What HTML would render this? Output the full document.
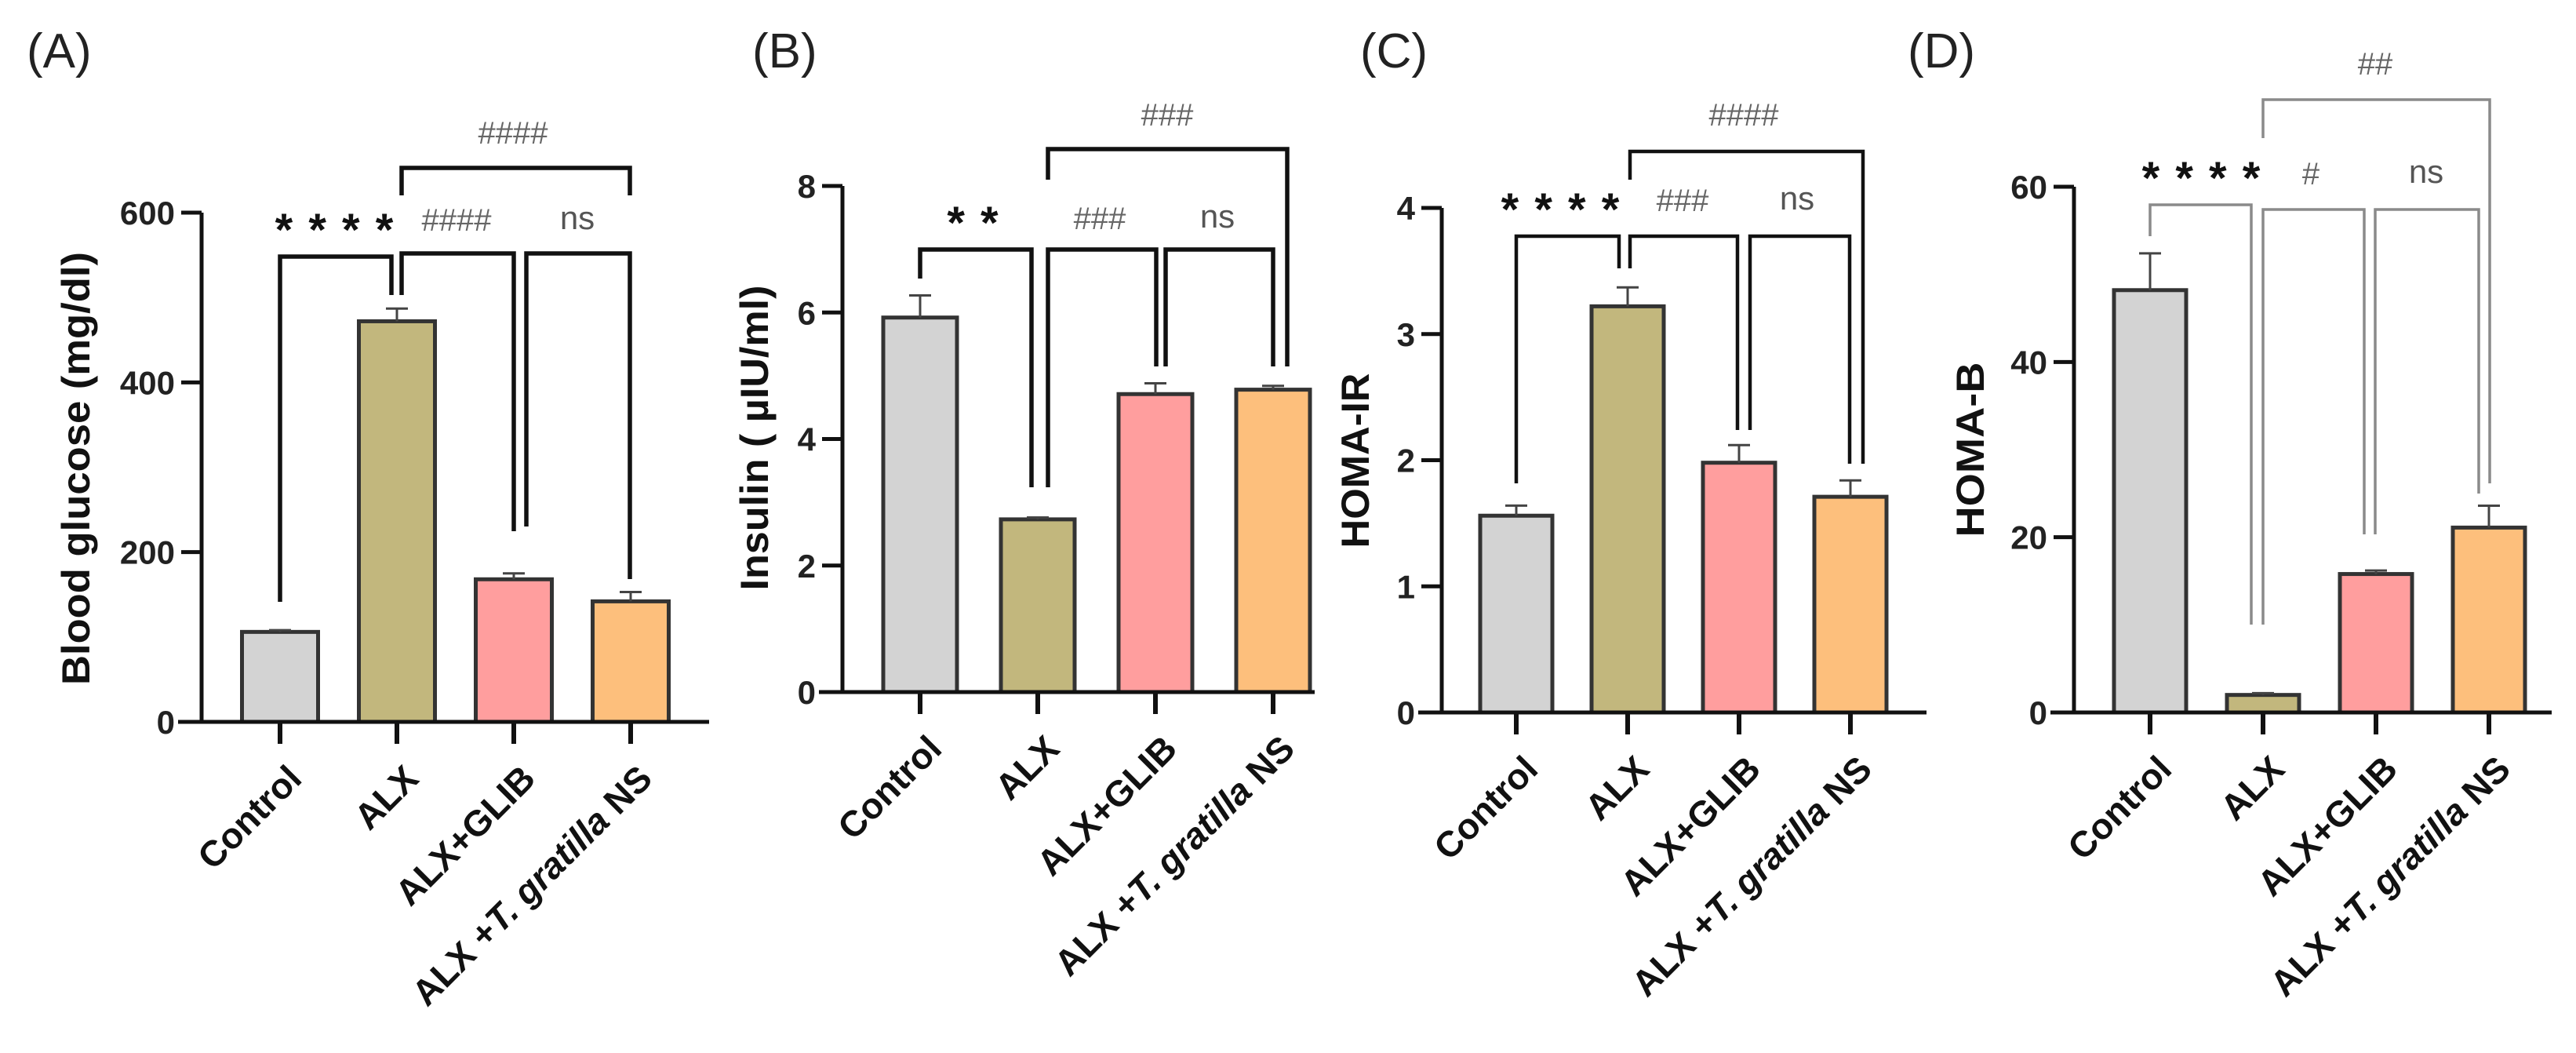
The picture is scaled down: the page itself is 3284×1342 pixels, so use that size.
<!DOCTYPE html>
<html><head><meta charset="utf-8"><title>Biochemical parameters</title>
<style>html,body{margin:0;padding:0;background:#fff;}svg{display:block;}</style></head>
<body>
<svg id="fig" xmlns="http://www.w3.org/2000/svg" width="3284" height="1342" viewBox="0 0 3284 1342">
<rect width="3284" height="1342" fill="#fff"/>
</svg>
<script>
// ---- data ----
const categories = ["Control", "ALX", "ALX+GLIB", "ALX +T. gratilla NS"];
const glucoseValues = [106, 472, 168, 142];
const glucoseErrors = [2, 15, 7, 11];
const glucoseTicks = [0, 200, 400, 600];
const insulinValues = [5.92, 2.73, 4.71, 4.78];
const insulinErrors = [0.35, 0.03, 0.17, 0.06];
const insulinTicks = [0, 2, 4, 6, 8];
const homaIRValues = [1.56, 3.22, 1.98, 1.71];
const homaIRErrors = [0.08, 0.15, 0.14, 0.13];
const homaIRTicks = [0, 1, 2, 3, 4];
const homaBValues = [48.2, 2.0, 15.8, 21.1];
const homaBErrors = [4.2, 0.2, 0.4, 2.5];
const homaBTicks = [0, 20, 40, 60];
const barColors = ["#d3d3d3", "#c2b77d", "#ff9e9e", "#fdbf7c"];

const NS = "http://www.w3.org/2000/svg";
const svg = document.getElementById("fig");
function el(tag, attrs, parent) {
  const e = document.createElementNS(NS, tag);
  for (const k in attrs) e.setAttribute(k, attrs[k]);
  (parent || svg).appendChild(e);
  return e;
}
const FONT = '"Liberation Sans", Arial, sans-serif';
const NARROW = '"Liberation Sans Narrow", "Liberation Sans", sans-serif';

const panels = [
  { key: "a", letter: "(A)", letterX: 34, values: glucoseValues, errors: glucoseErrors, ticks: glucoseTicks, yMax: 600,
    axisX: 257, y0: 920, yTop: 271, first: 357, step: 149, barW: 97, axisEnd: 904,
    title: "Blood glucose (mg/dl)", titleX: 97, titleY: 597, titleLen: 552, lw: 5.5, bcol: "#111",
    brackets: [[357, 767, 499, 376, 327], [512, 376, 655, 677, 323], [671, 671, 803, 738, 323], [512, 249, 803, 249, 214]],
    labels: [["* * * *", 427, 287, "star"], ["####", 582, 280, "hash"], ["ns", 736, 280, "ns"], ["####", 654, 169, "hash"]] },
  { key: "b", letter: "(B)", letterX: 959, values: insulinValues, errors: insulinErrors, ticks: insulinTicks, yMax: 8,
    axisX: 1074, y0: 882, yTop: 237, first: 1173, step: 150, barW: 94, axisEnd: 1676,
    title: "Insulin ( \u00b5IU/ml)", titleX: 962, titleY: 558, titleLen: 389, lw: 5.5, bcol: "#111",
    brackets: [[1173, 355, 1315, 621, 318], [1336, 621, 1474, 467, 318], [1486, 467, 1623, 467, 318], [1336, 229, 1641, 467, 190]],
    labels: [["* *", 1241, 278, "star"], ["###", 1402, 278, "hash"], ["ns", 1552, 278, "ns"], ["###", 1488, 146, "hash"]] },
  { key: "c", letter: "(C)", letterX: 1734, values: homaIRValues, errors: homaIRErrors, ticks: homaIRTicks, yMax: 4,
    axisX: 1838, y0: 908, yTop: 265, first: 1933, step: 142, barW: 92, axisEnd: 2456,
    title: "HOMA-IR", titleX: 1728, titleY: 587, titleLen: 223, lw: 4.5, bcol: "#111",
    brackets: [[1933, 616, 2064, 342, 301], [2078, 342, 2215, 548, 301], [2231, 548, 2358, 591, 301], [2078, 229, 2375, 591, 193]],
    labels: [["* * * *", 1990, 261, "star"], ["###", 2145, 255, "hash"], ["ns", 2291, 255, "ns"], ["####", 2223, 146, "hash"]] },
  { key: "d", letter: "(D)", letterX: 2432, values: homaBValues, errors: homaBErrors, ticks: homaBTicks, yMax: 60,
    axisX: 2644, y0: 908, yTop: 238, first: 2741, step: 144, barW: 92, axisEnd: 3253,
    title: "HOMA-B", titleX: 2512, titleY: 573, titleLen: 223, lw: 3.5, bcol: "#8a8a8a",
    brackets: [[2741, 301, 2870, 796, 261], [2885, 796, 3014, 681, 267], [3028, 681, 3160, 629, 267], [2885, 176, 3174, 616, 127]],
    labels: [["* * * *", 2807, 221, "star"], ["#", 2946, 221, "hash"], ["ns", 3093, 221, "ns"], ["##", 3028, 81, "hash"]] }
];

panels.forEach(p => {
  const g = el("g", {});
  
  
  const yScale = v => p.y0 - (v / p.yMax) * (p.y0 - p.yTop);
  const xScale = i => p.first + i * p.step;

  // panel letter
  const L = el("text", { x: p.letterX, y: 86, "font-family": FONT, "font-size": 62, fill: "#222" }, g);
  L.textContent = p.letter;
  
  

  // bars + error bars
  p.values.forEach((v, i) => {
    const cx = xScale(i), top = yScale(v);
    const bar = el("rect", { x: cx - p.barW / 2, y: top, width: p.barW, height: p.y0 - top,
      fill: barColors[i], stroke: "#333", "stroke-width": 5 }, g);
    
    
    const et = yScale(v + p.errors[i]);
    const eb = el("path", { d: `M${cx},${top} V${et} M${cx - 14},${et} H${cx + 14}`, stroke: "#444", "stroke-width": 3, fill: "none" }, g);
    
    
  });

  // axes
  const ax = el("path", { d: `M${p.axisX},${p.yTop} V${p.y0} M${p.axisX - 30},${p.y0} H${p.axisEnd}`, stroke: "#111", "stroke-width": 5, fill: "none" }, g);
  
  

  p.ticks.forEach(t => {
    const y = yScale(t);
    const tk = el("line", { x1: p.axisX - 26, x2: p.axisX, y1: y, y2: y, stroke: "#111", "stroke-width": 5 }, g);
    
    
    const tl = el("text", { x: p.axisX - 34, y: y + 15, "text-anchor": "end", "font-family": FONT, "font-weight": "bold", "font-size": 42, fill: "#222" }, g);
    tl.textContent = t;
    
    
  });

  categories.forEach((c, i) => {
    const cx = xScale(i);
    const tk = el("line", { x1: cx, x2: cx, y1: p.y0, y2: p.y0 + 28, stroke: "#111", "stroke-width": 6 }, g);
    
    
    const tx = cx + 30, ty = p.y0 + 75;
    const t = el("text", { x: tx, y: ty, "text-anchor": "end", transform: `rotate(-45 ${tx} ${ty})`,
      "font-family": FONT, "font-weight": "bold", "font-size": 46, fill: "#111" }, g);
    
    
    if (c.indexOf("T. gratilla") >= 0) {
      const a = el("tspan", {}, t); a.textContent = "ALX +";
      const b = el("tspan", { "font-style": "italic" }, t); b.textContent = "T. gratilla";
      const d = el("tspan", {}, t); d.textContent = " NS";
    } else t.textContent = c;
  });

  // y title
  const yt = el("text", { x: p.titleX, y: p.titleY, transform: `rotate(-90 ${p.titleX} ${p.titleY})`, "text-anchor": "middle",
    "dominant-baseline": "central", "font-family": NARROW, "font-weight": "bold", "font-size": 50, fill: "#111",
    textLength: p.titleLen, lengthAdjust: "spacingAndGlyphs" }, g);
  yt.textContent = p.title;
  
  

  // significance brackets [x1, yLeftBottom, x2, yRightBottom, yTop]
  p.brackets.forEach(b => {
    const br = el("path", { d: `M${b[0]},${b[1]} V${b[4]} H${b[2]} V${b[3]}`, stroke: p.bcol, "stroke-width": p.lw, fill: "none" }, g);
    
    
  });
  p.labels.forEach(l => {
    let t;
    if (l[3] === "star") {
      t = el("text", { x: l[1], y: l[2] + 26, "text-anchor": "middle", "font-family": FONT, "font-weight": "bold", "font-size": 58, fill: "#111", "letter-spacing": "2" }, g);
    } else if (l[3] === "hash") {
      t = el("text", { x: l[1], y: l[2] + 14, "text-anchor": "middle", "font-family": NARROW, "font-size": 40, fill: "#666" }, g);
    } else {
      t = el("text", { x: l[1], y: l[2] + 12, "text-anchor": "middle", "font-family": FONT, "font-size": 42, fill: "#555" }, g);
    }
    t.textContent = l[0];
    
    
  });
});
</script>
</body></html>
